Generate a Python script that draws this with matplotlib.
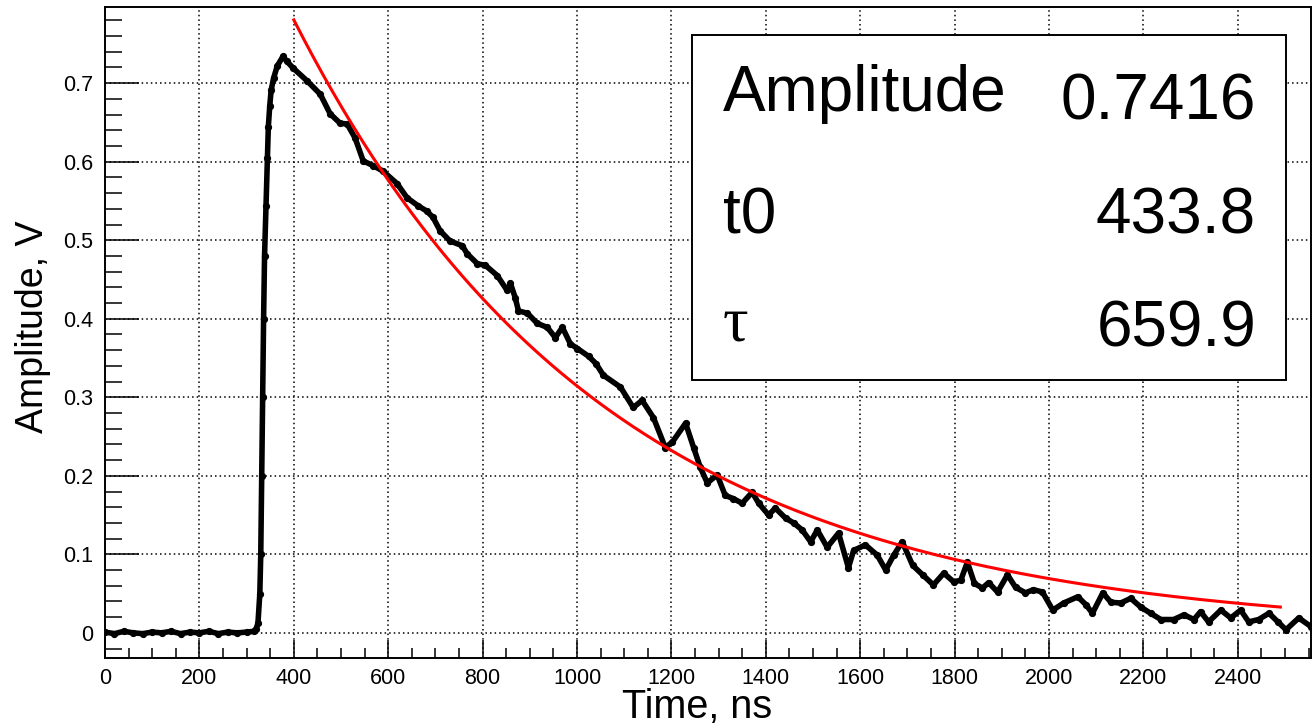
import numpy as np
import matplotlib
matplotlib.use('Agg')
import matplotlib.pyplot as plt
from matplotlib.patches import Rectangle
from matplotlib.ticker import MultipleLocator, FuncFormatter

plt.rcParams['font.family'] = ['Liberation Sans', 'DejaVu Sans']

# waveform (time in ns, amplitude in V)
t_ns = [0, 20, 40, 60, 80, 100, 120, 140, 160, 180, 200, 220, 240, 260, 280, 300, 316,
        320, 324, 328, 330, 332, 334, 336, 338, 341, 344, 346, 349, 352, 357, 365, 377, 385,
        399, 428, 456, 477, 498, 513, 530, 547, 568, 589, 619, 640, 663, 682, 695,
        710, 731, 757, 767, 789, 806, 831, 852, 859, 869, 876, 895, 916, 937, 954, 969, 986, 1001,
        1025, 1040, 1056, 1092, 1119, 1138, 1162, 1187, 1202, 1230, 1247, 1261, 1276, 1297,
        1314, 1331, 1350, 1371, 1385, 1406, 1420, 1442, 1459, 1477, 1495, 1509, 1530, 1554,
        1575, 1586, 1611, 1636, 1654, 1671, 1689, 1711, 1732, 1755, 1777, 1798, 1813, 1827,
        1842, 1859, 1872, 1891, 1912, 1929, 1950, 1967, 1986, 2008, 2031, 2061, 2078, 2092,
        2114, 2131, 2152, 2173, 2194, 2215, 2237, 2264, 2286, 2307, 2321, 2338, 2364, 2385,
        2406, 2423, 2444, 2466, 2485, 2502, 2529, 2555]
amp_v = [0.001, -0.001, 0.002, 0.000, -0.001, 0.001, 0.000, 0.002, -0.001, 0.001, 0.000, 0.002, -0.001, 0.001, 0.000, 0.001, 0.002,
         0.005, 0.012, 0.050, 0.100, 0.200, 0.300, 0.400, 0.480, 0.543, 0.605, 0.644, 0.671, 0.691, 0.706, 0.722, 0.734, 0.728,
         0.719, 0.703, 0.686, 0.661, 0.649, 0.648, 0.630, 0.601, 0.595, 0.588, 0.572, 0.554, 0.544, 0.537, 0.529,
         0.512, 0.499, 0.493, 0.483, 0.470, 0.468, 0.455, 0.436, 0.445, 0.427, 0.410, 0.407, 0.394, 0.389, 0.376, 0.389, 0.368, 0.362,
         0.352, 0.343, 0.328, 0.313, 0.287, 0.296, 0.274, 0.236, 0.243, 0.267, 0.236, 0.211, 0.191, 0.201,
         0.175, 0.171, 0.165, 0.179, 0.165, 0.150, 0.159, 0.146, 0.140, 0.131, 0.116, 0.131, 0.109, 0.127,
         0.083, 0.105, 0.112, 0.099, 0.080, 0.099, 0.116, 0.086, 0.074, 0.061, 0.076, 0.065, 0.067, 0.090,
         0.063, 0.057, 0.064, 0.052, 0.074, 0.058, 0.051, 0.055, 0.052, 0.029, 0.038, 0.046, 0.036, 0.025,
         0.051, 0.039, 0.038, 0.044, 0.033, 0.025, 0.017, 0.017, 0.023, 0.017, 0.027, 0.014, 0.029, 0.019,
         0.029, 0.014, 0.017, 0.025, 0.014, 0.004, 0.019, 0.008]

# fit result
fit_amp = 0.7416
fit_t0 = 433.8
fit_tau = 659.9
fit_range = (400, 2490)

W, H = 1314, 726
fig = plt.figure(figsize=(W / 100, H / 100), dpi=100)
ax = fig.add_axes([105 / W, 1 - 658 / H, (1311 - 105) / W, (658 - 7) / H])

ax.plot(t_ns, amp_v, color='black', lw=4.0, marker='o', ms=4.2, zorder=3,
        solid_joinstyle='round', solid_capstyle='round')
tf = np.linspace(fit_range[0], fit_range[1], 400)
ax.plot(tf, fit_amp * np.exp(-(tf - fit_t0) / fit_tau), color='#ff0000', lw=2.2, zorder=4)

ax.set_xlim(0, 2555)
ax.set_ylim(-0.032, 0.797)
ax.xaxis.set_major_locator(MultipleLocator(200))
ax.xaxis.set_minor_locator(MultipleLocator(50))
ax.yaxis.set_major_locator(MultipleLocator(0.1))
ax.yaxis.set_minor_locator(MultipleLocator(0.02))
ax.yaxis.set_major_formatter(FuncFormatter(lambda v, p: '0' if abs(v) < 1e-9 else '%g' % round(v, 2)))

ax.tick_params(axis='both', which='both', direction='in', width=1.1, colors='black', labelsize=15.5)
ax.tick_params(axis='y', which='major', length=24.5, pad=8.5)
ax.tick_params(axis='y', which='minor', length=12.2)
ax.tick_params(axis='x', which='major', length=13, pad=7)
ax.tick_params(axis='x', which='minor', length=7)
for s in ax.spines.values():
    s.set_linewidth(1.4)

ax.grid(True, which='major', color='black', lw=1.1, linestyle=(0, (1, 2.0)), zorder=1)
ax.set_axisbelow(True)

fig.text(697 / W, 1 - 707 / H, 'Time, ns', ha='center', va='center', fontsize=28.5)
fig.text(33 / W, 1 - 327 / H, 'Amplitude, V', ha='center', va='center', rotation=90, fontsize=27)

# stats box
box = Rectangle((692 / W, 1 - 380 / H), (1286 - 692) / W, (380 - 35) / H,
                transform=fig.transFigure, facecolor='white', edgecolor='black', lw=1.4, zorder=5)
fig.patches.append(box)
fs = 46
fig.text(723 / W, 1 - 111 / H, 'Amplitude', ha='left', va='baseline', fontsize=fs, zorder=6)
fig.text(1256 / W, 1 - 120 / H, '%.4f' % fit_amp, ha='right', va='baseline', fontsize=fs, zorder=6)
fig.text(723 / W, 1 - 233 / H, 't0', ha='left', va='baseline', fontsize=fs, zorder=6)
fig.text(1256 / W, 1 - 233 / H, '%.1f' % fit_t0, ha='right', va='baseline', fontsize=fs, zorder=6)
fig.text(723 / W, 1 - 340 / H, '\u03c4', ha='left', va='baseline', fontsize=fs,
         family=['Liberation Serif', 'DejaVu Serif'], zorder=6)
fig.text(1256 / W, 1 - 346 / H, '%.1f' % fit_tau, ha='right', va='baseline', fontsize=fs, zorder=6)

fig.savefig('out.png', dpi=100)
